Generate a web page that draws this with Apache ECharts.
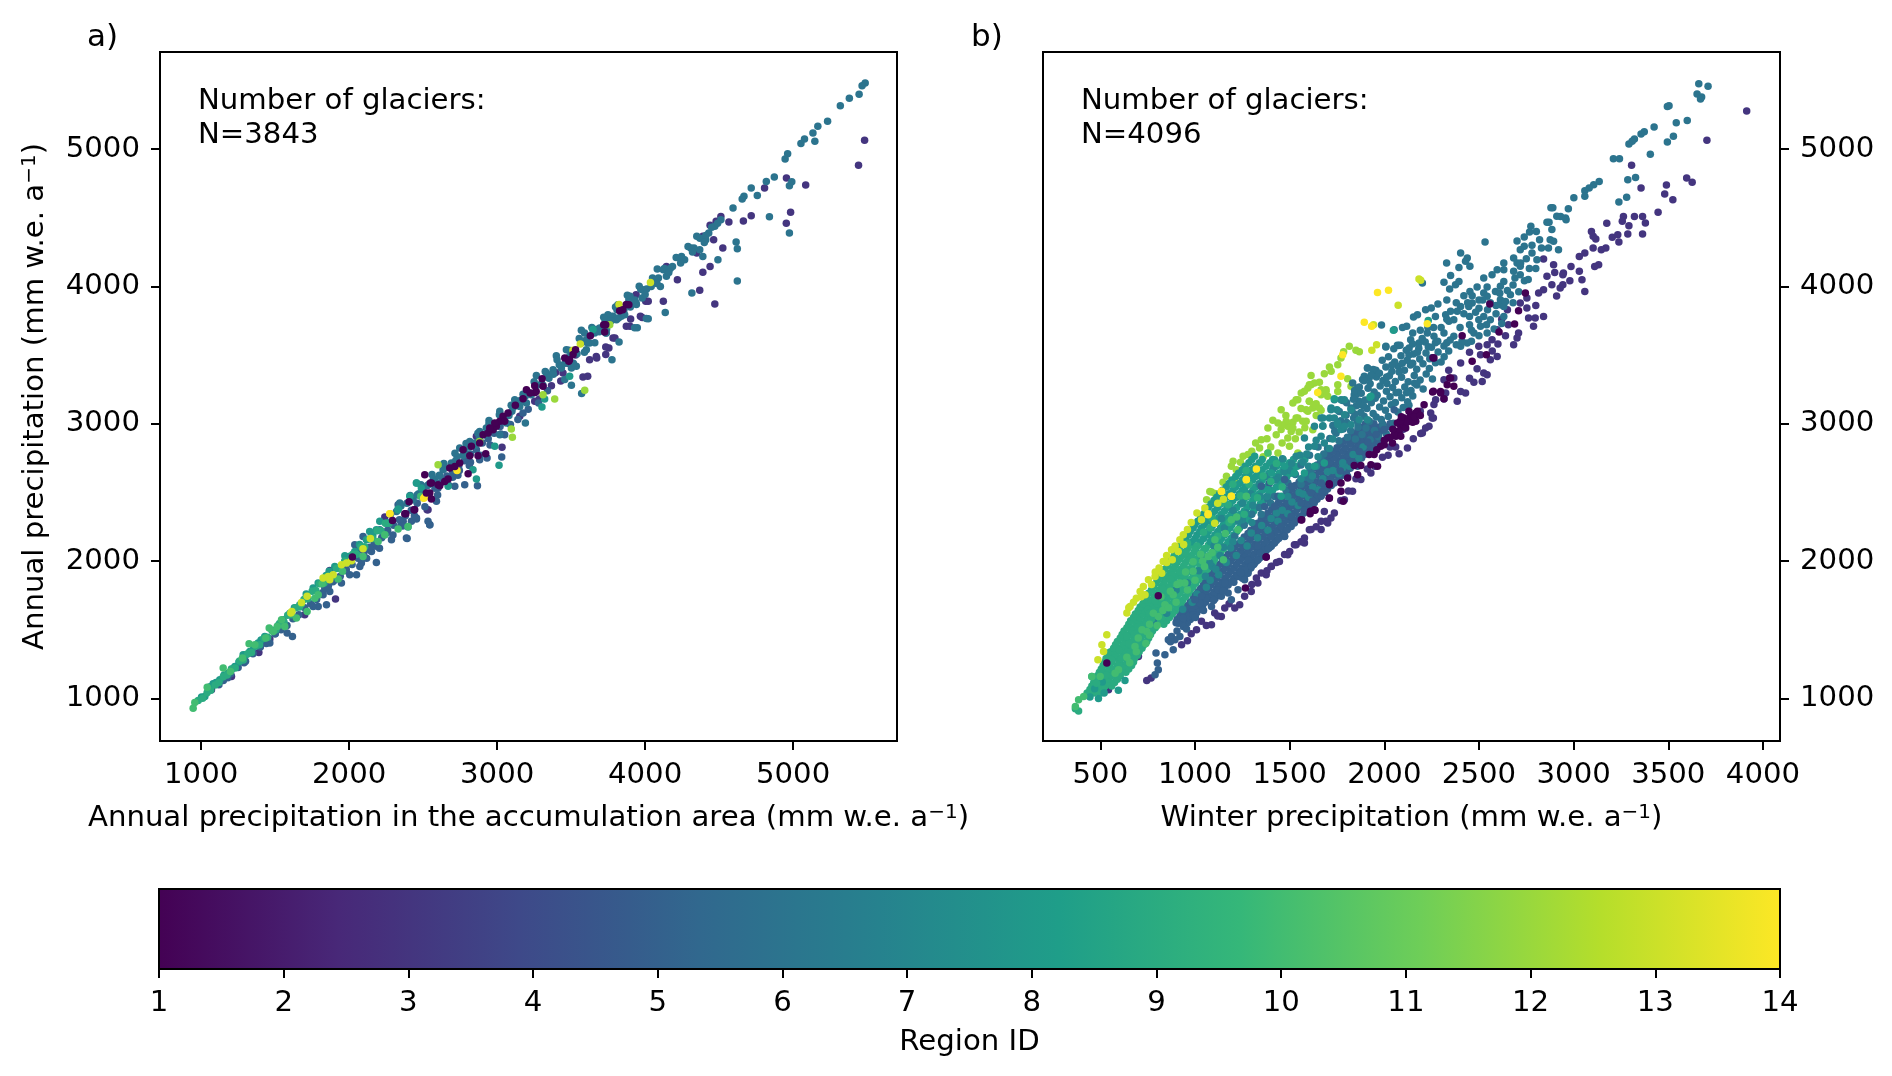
<!DOCTYPE html>
<html><head><meta charset="utf-8">
<style>html,body{margin:0;padding:0;background:#fff}#c{width:1892px;height:1076px}</style>
<script src="https://cdn.jsdelivr.net/npm/echarts@6/dist/echarts.min.js"></script>
</head><body><div id="c"></div>
<script>
const viridis=['#440154','#482878','#3e4989','#31688e','#26828e','#1f9e89','#35b779','#6ece58','#b5de2b','#fde725'];
const tickA=[1000,2000,3000,4000,5000];
const tickBx=[500,1000,1500,2000,2500,3000,3500,4000];
const tickY=[1000,2000,3000,4000,5000];
const tickRegion=[1,2,3,4,5,6,7,8,9,10,11,12,13,14];

/* Panel a: [accumulation-area precipitation, annual precipitation] */
const aR3=[[1908,1723],[1700,1609],[1390,1335],[1205,1160],[1070,1063],[1869,1932],[2241,2320],[2527,2374],[1464,1432],[3033,2828],[3580,3340],[3367,3277],[3734,3558],[3734,3503],[3670,3490],[3625,3466],[3783,3624],[3873,3709],[3902,3762],[3968,3782],[4004,3891],[3254,3163],[3445,3369],[3153,3054],[2533,2374],[2860,2908],[3939,3939],[4021,3891],[4123,3891],[4218,4048],[4144,4145],[4349,4242],[4463,4340],[4390,4364],[3796,3624],[3755,3551],[3673,3478],[3612,3345],[5483,5063],[5442,4881],[4955,4789],[5085,4738],[4983,4539],[4954,4459],[4717,4514],[4664,4475],[4566,4468],[4807,4716],[4512,4509],[4525,4279],[4439,4145],[4390,4102],[4369,3971],[4471,3871],[3980,3774],[3898,3709],[4480,4473],[4439,4444],[3395,3372],[3480,3440],[3530,3500],[3430,3310],[3285,3180]];
const aR5=[[1617,1451],[1581,1476],[1464,1403],[2184,1990],[2392,2165],[2545,2264],[2072,1961],[2050,1900],[2004,1900],[1948,1840],[1847,1682],[1791,1670],[1824,1755],[1835,1803],[2083,1985],[2151,2070],[2061,2082],[2038,2119],[2094,2179],[2286,2155],[2331,2410],[2455,2306],[2421,2289],[2533,2289],[2365,2289],[2275,2276],[2252,2204],[2184,2107],[2139,2082],[1914,1949],[1869,1779],[1757,1670],[2545,2265],[2781,2556],[2867,2549],[2932,2750],[3031,2757],[2387,2168],[2455,2313],[2590,2435],[2714,2544],[2882,2738],[3051,2920],[3175,3078],[2600,2530],[2650,2590],[2745,2660],[2820,2720],[2700,2610],[1500,1470],[1440,1400],[1350,1330],[1290,1260],[1180,1150],[1120,1100],[2350,2260],[2170,2130],[2230,2190],[1980,1940],[1890,1850],[1780,1720],[1150,1130],[1200,1180],[1250,1225],[1300,1270],[1350,1325],[1400,1375],[1450,1420],[1500,1470],[1540,1500],[1580,1530],[1620,1580],[1660,1610],[1700,1660],[1740,1690],[1780,1730],[1820,1770],[1860,1820],[1900,1860],[1940,1890],[1980,1930],[2020,1975],[2060,2020],[2100,2060],[2140,2100],[2180,2130],[2220,2170],[2260,2225],[2300,2260],[2340,2300],[2380,2330],[2420,2370],[2460,2420],[2500,2460],[2540,2490],[2580,2530],[2620,2570],[2660,2620],[2700,2650],[2740,2690],[2780,2730],[2820,2780],[2860,2810],[2900,2860],[2940,2890],[2980,2930],[3020,2980],[2118,2020],[2205,2094],[2296,2190],[2362,2255],[2441,2330],[2512,2395],[2598,2480],[2672,2552],[2735,2625],[2812,2695],[2885,2770],[2952,2845],[3025,2925],[3090,2995],[3140,3030],[3210,3105],[3280,3150],[3340,3240]];
const aR6=[[5487,5480],[5466,5461],[5446,5398],[5380,5369],[5319,5315],[5233,5201],[5167,5165],[5134,5116],[5147,5056],[5077,5073],[5053,5039],[4963,4966],[4946,4927],[4873,4796],[4819,4764],[4975,4733],[4991,4762],[4975,4388],[4840,4507],[4758,4662],[4717,4716],[4668,4655],[4656,4636],[4594,4570],[4615,4323],[4623,4274],[4492,4194],[4623,4039],[4316,3951],[4136,3810],[4021,3764],[3947,3699],[3775,3781],[3857,3830],[3816,3866],[3898,3927],[3980,3975],[4082,4126],[4041,3999],[4144,4073],[4185,4145],[4246,4218],[4308,4279],[4349,4364],[4410,4340],[4430,4388],[4471,4437],[4512,4485],[4123,4121],[4267,4194],[4369,4267],[4390,4218],[3980,3915],[4103,3999],[3939,3878],[3734,3757],[3673,3684],[3591,3660],[3734,3660],[3569,3680],[3776,3466],[3824,3595],[3571,3219],[3502,3279],[3929,3699],[4008,3765],[2945,3024],[3018,3090],[3191,3005],[3265,3350],[3400,3495],[3502,3405],[3378,3393],[3333,3369],[3434,3405],[3457,3321],[3603,3539],[3625,3587],[3659,3660],[3693,3697],[3749,3794],[3783,3782],[3806,3757],[3862,3794],[3941,3867],[3198,3151],[3153,3126],[3119,3175],[3063,3005],[3018,2920],[2927,2969],[2882,2944],[2815,2871],[2747,2823],[2691,2714],[2635,2665],[2578,2592],[2500,2507],[2432,2447],[2342,2423],[2263,2277],[2207,2228],[3220,3223],[3468,3539],[3535,3418],[3603,3612],[3670,3685],[3738,3660],[3839,3782],[3918,3879],[3300,3290],[3350,3330],[3480,3480],[3100,3090],[3160,3170],[2990,2990],[2850,2860],[2780,2790],[2720,2730],[2610,2625],[2540,2560],[2470,2490],[2280,2340],[2320,2360],[2350,2400],[2390,2420],[2420,2460],[2460,2480],[2500,2540],[2530,2550],[2570,2600],[2610,2620],[2650,2680],[2690,2700],[2730,2760],[2770,2770],[2810,2830],[2850,2840],[2880,2900],[2920,2920],[2960,2980],[3000,2990],[3040,3050],[3080,3060],[3110,3120],[3150,3140],[3190,3200],[3230,3210],[3270,3280],[3310,3280],[3340,3350],[3380,3360],[3420,3430],[3460,3440],[3500,3510],[3540,3510],[3570,3590],[3610,3590],[3650,3670],[3690,3670],[3730,3750],[3770,3750],[3810,3830],[3850,3830],[3890,3900],[3930,3900],[3970,3980],[4010,3980],[4050,4060],[4090,4060],[4130,4130],[4170,4130],[4210,4210],[4250,4200],[4290,4290],[4330,4280],[4370,4350],[4410,4370],[4450,4430],[4490,4460],[2412,2478],[2485,2555],[2560,2630],[2640,2710],[2715,2785],[2790,2855],[2870,2930],[2945,3000],[3015,3065],[3095,3135],[3175,3215],[3250,3305],[3325,3380],[3405,3465],[3485,3535],[3555,3620],[3640,3700],[3720,3775],[3800,3850],[3880,3935],[3960,4000],[3515,3440],[3590,3520],[3660,3590],[3740,3690],[3820,3770],[3900,3850],[4000,3940],[4080,4020],[4160,4100],[4240,4170],[4320,4250],[4400,4320]];
const aR8=[[1003,1010],[1025,1014],[1081,1107],[1126,1136],[1183,1184],[1228,1233],[1284,1318],[1329,1342],[1385,1403],[1430,1451],[1554,1573],[1667,1682],[1757,1803],[1791,1840],[1903,1961],[1971,2039],[2038,2070],[2117,2155],[2184,2228],[2252,2276],[2331,2374],[2410,2471],[2455,2568],[2207,2289],[2139,2216],[3013,2697],[2860,2597],[2837,2665],[2398,2248],[2669,2544],[2984,2835],[3303,3121],[3321,3180],[3490,3345],[3648,3685],[2455,2568],[2331,2379],[2488,2532],[2241,2192],[1060,1085],[1100,1115],[1155,1170],[1205,1215],[1255,1265],[1305,1320],[1355,1375],[1405,1425],[1480,1495],[1520,1530],[1600,1620],[1630,1660],[1710,1760],[1845,1895],[1865,1925],[2005,2035],[2070,2120],[2160,2190]];
const aR9=[[980,985],[1010,1002],[1040,1042],[1065,1060],[1095,1098],[1120,1115],[1150,1158],[1175,1170],[1205,1212],[1230,1222],[1260,1272],[1285,1280],[1315,1325],[1340,1335],[1370,1382],[1395,1390],[1425,1438],[1450,1446],[1480,1495],[1505,1500],[1530,1545],[1560,1555],[1585,1605],[1610,1610],[1640,1660],[1665,1665],[1695,1720],[1720,1725],[1750,1780],[1775,1785],[1800,1835],[1830,1840],[1855,1890],[1885,1890],[1915,1945],[1940,1945],[1970,2000],[1995,2000],[2025,2050],[2050,2050],[2080,2105],[2105,2105],[2135,2160],[2160,2165],[2190,2220],[2215,2220],[2245,2275],[2270,2275]];
const aR10=[[946,929],[957,971],[1041,1082],[1149,1221],[1198,1196],[1279,1294],[1324,1398],[1363,1391],[1437,1439],[1460,1512],[1487,1488],[1514,1524],[1565,1524],[1543,1573],[1644,1585],[1678,1689],[1716,1633],[1768,1730],[1818,1835],[1791,1755],[1926,1869],[1955,1925],[2094,2034],[2196,2143],[2398,2252],[2331,2233],[2484,2471],[2241,2191]];
const aR12=[[2601,2702],[2882,2871],[3103,2901],[3096,2961],[3310,3211],[3389,3180],[3592,3243],[3761,3721]];
const aR13=[[1606,1621],[1613,1633],[1716,1743],[1824,1876],[1869,1864],[1858,1888],[1892,1900],[1948,1973],[1982,1985],[2016,2002],[2094,2090],[2144,2165],[1678,1699],[3513,3534],[3562,3580],[3824,3867],[4036,4028]];
const aR14=[[2275,2344],[2504,2458],[2275,2345],[2511,2466],[2729,2660]];
const aR1=[[2293,2296],[2376,2344],[2405,2432],[2443,2374],[2522,2495],[2556,2451],[2601,2556],[2646,2580],[2549,2568],[2022,2029],[2383,2345],[2439,2374],[2545,2495],[2556,2568],[2612,2549],[2511,2629],[2680,2677],[2747,2714],[2714,2689],[2669,2597],[2804,2636],[2815,2767],[2871,2767],[2923,2782],[2770,2811],[2826,2835],[2882,2859],[2905,2920],[2939,2932],[2972,2956],[2995,2981],[3018,3017],[3040,3054],[3074,3078],[2984,3005],[2950,2969],[3051,3017],[3123,3134],[3175,3182],[3198,3248],[3254,3277],[3304,3328],[3310,3272],[3256,3228],[3457,3478],[3513,3503],[3484,3454],[3630,3641],[3720,3721],[3727,3668],[3828,3823],[3873,3867],[3849,3830],[3890,3866],[3734,3721],[3530,3539],[3489,3466],[3264,3235],[3223,3223]];

/* Panel b: [winter precipitation, annual precipitation] */
const bR3=[[745,1131],[768,1148],[543,1063],[526,1257],[578,1330],[701,1306],[929,1391],[1034,1561],[1008,1500],[1087,1536],[1139,1597],[1104,1621],[1157,1658],[1210,1658],[1236,1682],[1262,1743],[1297,1779],[1332,1840],[1324,1876],[1376,1900],[1403,1961],[1446,1997],[1490,2046],[1534,2119],[1578,2131],[1604,2228],[1666,2289],[1718,2313],[1683,2361],[2262,3139],[2315,3180],[2259,3042],[2218,2969],[2192,2928],[2153,2891],[2122,2823],[2078,2782],[1929,2641],[1876,2593],[1832,2508],[1701,2277],[1666,2229],[1613,2229],[1578,2168],[1525,2119],[1473,2047],[1403,1962],[1350,1913],[1789,2447],[1736,2350],[1692,2289],[1950,2690],[1990,2755],[2030,2830],[2841,4199],[2894,4158],[2946,4097],[2859,4073],[2885,4012],[2929,3988],[2841,3976],[2815,3951],[2753,3915],[2718,3879],[2753,3842],[2841,3781],[2797,3769],[2762,3769],[2788,3709],[2709,3660],[2701,3624],[2683,3575],[2596,3684],[2569,3612],[2543,3575],[2499,3563],[2508,3502],[2596,3490],[2560,3466],[2525,3369],[2543,3357],[2517,3308],[2473,3301],[2403,3235],[2429,3223],[2385,3163],[2324,3223],[2271,3175],[2245,3078],[2253,3041],[2236,2981],[2201,2932],[2315,3320],[2367,3332],[2403,3442],[3914,5276],[3704,5063],[3306,4881],[3597,4789],[3626,4757],[3490,4738],[3356,4716],[3481,4672],[3524,4631],[3446,4539],[3263,4509],[3321,4509],[3364,4509],[3257,4473],[3379,4461],[3175,4459],[3292,4441],[3286,4381],[3364,4381],[3204,4357],[3233,4376],[3239,4323],[3170,4279],[3146,4267],[3103,4364],[3117,4344],[3094,4400],[3103,4279],[3059,4242],[3030,4218],[2986,4145],[3030,4109],[3132,4158],[3111,4145],[3044,4048],[3059,3963],[2943,4085],[2943,4012],[2650,3830],[2620,3760],[2655,3720],[2900,4100],[2800,3860],[2980,4040],[2910,3930],[2450,3520],[2340,3390],[2150,3040],[2190,3090],[2100,2960],[1810,2510],[1770,2440],[1850,2600],[1910,2670],[1640,2250],[1560,2140],[1500,2070],[1430,1990],[1380,1930],[1300,1830],[1180,1690],[1120,1600],[1060,1530],[980,1470],[960,1420],[2020,2770],[2060,2830],[2600,3580],[2450,3330],[2490,3400],[2640,3640],[2570,3530]];
/* rows: first number is annual precipitation, the rest winter precipitation */
const bRows5=[[1550,900,925,960],[1575,905,940,975],[1600,920,955,990],[1625,930,970,1010],[1650,945,985,1025],[1675,960,1000,1040],[1700,975,1015,1055],[1725,990,1030,1070,1105],[1750,1000,1040,1085,1125],[1775,1015,1055,1100,1140],[1800,1030,1070,1115,1155],[1825,1045,1085,1130,1175],[1850,1055,1100,1145,1190],[1875,1070,1115,1160,1205,1250],[1900,1085,1130,1175,1220,1265],[1925,1100,1145,1190,1235,1280],[1950,1115,1160,1205,1250,1295],[1975,1130,1175,1220,1265,1310],[2000,1145,1190,1235,1280,1325],[2025,1160,1205,1250,1295,1345],[2050,1175,1220,1265,1310,1360],[2075,1195,1240,1280,1330,1375],[2100,1210,1255,1300,1345,1395],[2125,1225,1270,1320,1365,1410],[2150,1245,1290,1335,1380,1430],[2175,1260,1305,1355,1400,1445],[2200,1280,1325,1370,1415,1465],[2225,1295,1340,1385,1435,1480],[2250,1315,1360,1405,1450,1500],[2275,1330,1375,1425,1470,1515],[2300,1350,1395,1440,1490,1535],[2325,1365,1415,1460,1505,1555],[2350,1385,1430,1480,1525,1575],[2375,1405,1450,1495,1540,1590],[2400,1420,1470,1515,1560,1610],[2425,1440,1485,1530,1580,1630],[2450,1455,1505,1550,1600,1645],[2475,1475,1520,1570,1615,1665],[2500,1495,1540,1590,1635,1685],[2525,1510,1560,1605,1650,1700],[2550,1530,1580,1625,1670,1720],[2575,1550,1595,1645,1690,1740],[2600,1570,1615,1665,1710,1760],[2625,1590,1635,1680,1730,1780],[2650,1605,1655,1700,1750,1800],[2675,1625,1675,1720,1770,1820],[2700,1645,1695,1740,1790,1840],[2725,1665,1715,1760,1810,1860],[2750,1690,1735,1785,1830,1880],[2775,1710,1755,1805,1850,1895],[2800,1730,1780,1825,1870,1915],[2825,1750,1795,1845,1890,1935],[2850,1770,1820,1865,1915,1950],[2875,1790,1840,1885,1930,1970],[2900,1815,1860,1910,1950],[2925,1835,1885,1930,1970],[2950,1860,1905,1950,1990],[2975,1880,1925,1970,2010],[3000,1900,1945,1990,2030]];
const bR5=[[789,1172],[806,1209],[801,1257],[794,1330],[841,1318],[885,1354],[859,1427],[894,1427],[920,1451],[876,1451],[938,1524],[964,1597],[911,1548],[938,1585],[990,1609],[1025,1694],[1060,1730],[1034,1743],[999,1718],[1087,1670],[1139,1743],[1192,1718],[1175,1767],[1227,1791],[1262,1864],[1315,1985],[1332,2010],[1280,1912],[1367,2082],[1420,2131],[1473,2179],[1508,2252],[1560,2325],[1613,2410],[1648,2470],[1683,2519],[1718,2568],[1227,1888],[1157,1840],[1122,1791],[1280,2009],[1332,2107],[1403,2179],[1455,2252],[1508,2325],[1560,2422],[1613,2495],[1666,2568],[1262,1937],[1333,2010],[1403,2107],[1473,2180],[1525,2277],[1596,2398],[1666,2471],[1736,2568],[1806,2617],[1859,2690],[1929,2835],[1999,2957],[2052,3102],[1350,2544],[1394,2568],[1473,2593],[1508,2544],[1420,2398],[1438,2471],[1368,2398],[870,1412],[905,1490],[955,1505],[1002,1590],[1045,1640],[1098,1712],[1146,1782],[1205,1845],[1242,1915],[1298,1962],[1345,2058],[1388,2092],[1442,2165],[1487,2228],[1532,2296],[1578,2372],[1622,2438],[1671,2505],[1715,2592],[1768,2655],[1823,2722],[1868,2798],[1912,2866],[1957,2921]];
const bR6=[[3661,5475],[3710,5456],[3652,5400],[3676,5378],[3670,5364],[3504,5315],[3495,5310],[3600,5208],[3542,5191],[3425,5160],[3373,5126],[3356,5109],[3321,5073],[3309,5056],[3292,5036],[3527,5092],[3495,5051],[3405,4961],[3210,4929],[3242,4929],[3327,4793],[3286,4776],[3135,4764],[3106,4740],[3082,4716],[3059,4696],[3059,4655],[3001,4645],[3280,4648],[3239,4614],[2890,4573],[2972,4565],[2931,4509],[2957,4497],[2870,4466],[2880,4573],[2911,4510],[2960,4485],[2859,4466],[2774,4437],[2885,4413],[2803,4400],[2767,4396],[2739,4359],[2701,4330],[2532,4323],[2739,4291],[2876,4340],[2894,4328],[2867,4279],[2920,4267],[2718,4267],[2780,4243],[2403,4243],[2438,4206],[2429,4182],[2329,4170],[2452,4146],[2394,4138],[2683,4206],[2701,4170],[2631,4170],[2596,4121],[2631,4121],[2718,4146],[2683,4109],[2806,4194],[2766,4129],[2718,4085],[2569,4085],[2525,4061],[2350,4078],[2315,4029],[2201,4024],[2394,4036],[2376,4012],[2345,3981],[2631,4036],[2613,4000],[2543,3995],[2490,3995],[2452,3963],[2420,3932],[2464,3932],[2525,3951],[2587,3963],[2666,3939],[2613,3903],[2543,3927],[2283,3871],[2248,3842],[2218,3830],[2175,3794],[2154,3777],[2052,3684],[2096,3701],[2118,3709],[1985,3718],[2403,3854],[2464,3879],[2446,3854],[2385,3818],[2350,3818],[2324,3794],[2367,3757],[2341,3745],[2482,3811],[2525,3781],[2499,3757],[2560,3757],[2631,3781],[2613,3866],[2631,3854],[2139,3612],[2183,3587],[2227,3660],[2262,3636],[2315,3660],[2367,3636],[2403,3563],[2438,3587],[2473,3660],[2508,3709],[2543,3660],[2008,3563],[2075,3570],[2131,3551],[2008,3559],[2069,3571],[1911,3405],[1894,3345],[1955,3386],[1885,3321],[1920,3333],[1859,3260],[1841,3211],[1867,3163],[1780,3168],[1824,3114],[1850,3211],[1833,3296],[1911,3406],[1955,3389],[2460,3600],[2410,3600],[2330,3590],[2270,3590],[2200,3620],[2300,3700],[2400,3700],[2450,3720],[2260,3700],[2330,3760],[2450,3780],[2420,3800],[2560,3880],[2500,3840],[2520,3900],[2610,3950],[2460,3680],[2500,3640],[2540,3720],[2580,3690],[2620,3730],[2590,3800],[2545,3830],[2590,3860],[2640,3890],[2680,3880],[2710,3960],[2680,4010],[2650,3970],[2740,4040],[2690,4060],[2760,4050],[2720,4170],[2750,4200],[2780,4300],[2820,4340],[2830,4280],[2800,4130],[2500,3900],[2440,3880],[2380,3880],[2330,3900],[2270,3780],[2230,3700],[2190,3680],[2150,3660],
[1712,2893],[1745,2931],[1760,2875],[1783,2962],[1805,2902],[1822,2948],[1847,2889],[1861,2975],[1882,2921],[1903,2968],[1925,2883],[1948,2950],[1969,2905],[1992,2988],[2010,2926],[1728,2987],[1770,3022],[1801,3008],[1838,3041],[1859,3012],[1893,3055],[1921,3018],[1957,3049],[1984,3031],[2021,3052],[2048,3003],[1762,3088],[1798,3062],[1829,3095],[1852,3130],[1876,3082],[1908,3111],[1941,3074],[1975,3122],[2006,3098],[2037,3138],[2072,3085],[2100,3118],[1801,3152],[1837,3178],[1868,3140],[1899,3172],[1931,3153],[1962,3208],[1996,3166],[2030,3197],[2058,3155],[2092,3188],[2123,3160],[2150,3202],[1843,3241],[1878,3222],[1914,3258],[1946,3231],[1978,3275],[2011,3236],[2044,3263],[2076,3229],[2108,3268],[2141,3242],[2172,3281],[2205,3252],[1892,3312],[1925,3291],[1958,3340],[1993,3315],[2027,3349],[2058,3308],[2091,3338],[2126,3306],[2158,3351],[2189,3319],[2221,3362],[2254,3325],[1941,3395],[1974,3368],[2008,3412],[2040,3382],[2073,3419],[2106,3389],[2138,3428],[2171,3397],[2204,3436],[2238,3402],[2270,3444],[1989,3461],[2022,3487],[2055,3450],[2088,3494],[2121,3462],[2154,3507],[2187,3471],[2220,3515],[2252,3481],[2284,3522],[2316,3488],[2050,3546],[2083,3572],[2116,3534],[2149,3581],[2182,3549],[2216,3594],[2249,3556],[2282,3601],[2315,3565],[2348,3610],[2380,3574],
[1738,2945],[1790,2996],[1846,3068],[1890,3128],[1952,3186],[2014,3292],[1868,3268],[1930,3354],[2062,3225],[2130,3135],[2118,3225],[2160,3295],[2012,3340],[2078,3376],[2150,3440],[2095,3440],[2040,3428],[2240,3472],[2300,3450],[2340,3530],[2232,3560],[2130,3500],[2175,3520],[1700,2820],[1650,2830],[1680,2780],[1605,2770],[1560,2700],[1612,2660],[1665,2735],[1590,2610],[1530,2630],[1480,2520],[1420,2470],[1385,2450],[1340,2390],[1300,2340],[1260,2260],[1210,2180],[1350,2340],[1400,2420],[1490,2570],[1560,2560],[1610,2595]];
const bR7=[[1719,3114],[1750,3102],[1666,3041],[1710,3041],[1754,2995],[1789,3066],[1675,2985],[1736,3175],[1718,3102],[1771,3175],[1824,3102],[1789,3175],[1736,3042],[1675,3042],[1753,3005],[1771,2957],[1631,2981],[1675,2981],[1666,2908],[1683,2860],[1578,2896],[1631,2835],[1534,2763],[1867,3029],[1911,3029],[1789,2981],[1824,2993],[1727,2889],[1590,2780],[1650,2760],[1710,2820],[1600,2690],[1560,2600],[1500,2660],[1440,2610],[1380,2470],[1300,2280],[1250,2300],[1200,2140],[1150,2100],[1090,1960],[1040,2020],[960,1840],[900,1790],[850,1620],[780,1560],[1640,2690],[1700,2650],[1780,2680],[1620,2620],[1550,2500],[1490,2470],[1430,2350],[1570,2720]];
const bR7over=[[1020,1930],[1055,1890],[1078,1985],[1110,1940],[1132,2040],[1165,1990],[1188,2095],[1218,2040],[1243,2150],[1275,2110],[1297,2205],[1330,2170],[1352,2258],[1385,2225],[1402,2310],[1438,2290],[1461,2370],[1490,2345],[1512,2430],[1545,2405],[1570,2488],[1600,2465],[1622,2540],[1655,2520],[1675,2600],[1706,2575],[1728,2660],[1760,2635],[1780,2715],[1815,2690],[1835,2775],[1866,2750],[1888,2830],[1230,2290],[1270,2350],[1305,2405],[1345,2470],[1385,2540],[1425,2590],[1470,2650],[1510,2710],[1555,2770],[1600,2830],[1640,2880],[1100,2110],[1155,2240],[1200,2370],[1140,2310],[1250,2420],[1295,2490],[1340,2560],[1378,2615],[1415,2680],[1462,2745],[1010,1760],[1060,1810],[985,1700],[935,1650],[1080,1860],[1125,1900]];
const bRows9=[[1040,430,465,500],[1065,445,480,515],[1090,455,490,525,560],[1115,465,505,540,575],[1140,470,510,545,590],[1165,485,520,560,605],[1190,495,530,565,600,635],[1215,505,545,580,615,650],[1240,515,550,590,625,665],[1265,525,560,600,640,675],[1290,530,570,605,640,680],[1315,545,580,620,655,695],[1340,555,590,630,670,705],[1365,570,605,645,685,720],[1390,580,620,655,695,730],[1415,590,630,670,705,745],[1440,605,640,680,715,755],[1465,615,655,690,730,765],[1490,625,665,700,740,775],[1515,640,675,715,750,790],[1540,650,690,725,765,800,835],[1565,660,700,740,775,815,850],[1590,675,710,750,790,825,865],[1615,685,725,760,800,840,880],[1640,700,735,775,810,850,895],[1665,710,750,785,825,865,905],[1690,725,760,800,840,880,925],[1715,735,770,815,850,890,935],[1740,745,785,825,865,905,950],[1765,755,795,840,880,920,965],[1790,770,810,850,890,935,975],[1815,780,825,865,905,945,990],[1840,795,835,875,915,960,1005],[1865,805,845,885,930,975,1020],[1890,815,860,900,945,990,1035],[1915,830,870,915,955,1005,1050],[1940,840,885,925,970,1020,1065],[1965,855,895,940,985,1030,1075],[1990,865,905,950,1000,1045,1095],[2015,875,920,965,1010,1060,1105],[2040,890,935,980,1025,1075,1120],[2065,900,945,995,1040,1090,1135],[2090,915,960,1005,1055,1105,1150],[2115,925,975,1020,1070,1115,1165]];
const bRows8=[[2140,940,985,1030,1080,1130,1175],[2165,950,1000,1045,1090,1140,1190],[2190,965,1010,1060,1105,1155,1205],[2215,975,1025,1070,1120,1170,1220],[2240,990,1035,1085,1135,1185,1235],[2265,1000,1050,1095,1150,1195,1250],[2290,1015,1065,1110,1160,1210,1265],[2315,1030,1075,1125,1175,1225,1280],[2340,1045,1090,1140,1190,1240,1295],[2365,1055,1105,1155,1205,1260,1310],[2390,1070,1120,1170,1220,1275,1325],[2415,1085,1135,1185,1240,1290,1345],[2440,1100,1150,1200,1255,1305,1360],[2465,1115,1165,1220,1270,1325,1380],[2490,1130,1180,1235,1285,1340,1395],[2515,1145,1200,1250,1305,1355,1410],[2540,1165,1215,1265,1320,1375,1430],[2565,1180,1235,1285,1340,1390,1450],[2590,1195,1250,1305,1355,1410,1465],[2615,1215,1265,1320,1375,1430,1485],[2640,1230,1285,1335,1390,1445,1505],[2665,1250,1300,1355,1410,1465,1520],[2690,1265,1320,1375,1430,1485,1540],[2715,1285,1340,1395,1450,1500,1560],[2740,1300,1355,1410,1465,1520,1580]];
const bR8=[[2048,3680],[2232,3752],[1924,3192],[1736,3182],[1929,3199],[1315,2763],[1420,2738],[1473,2690],[1525,2641],[1578,2641],[1631,2690],[1683,2714],[1403,2641],[1350,2617],[1297,2593],[1262,2520],[1315,2471],[1385,2520],[1455,2471],[490,1000],[520,1040],[445,1010],[470,1070],[510,1120],[630,1130],[595,1060]];
const bR9=[[368,925],[385,908],[455,1160],[480,1110],[530,1170],[570,1210],[610,1290],[660,1340],[690,1410],[650,1400],[730,1480],[770,1580],[820,1700],[860,1800],[930,1900],[1000,2000],[1050,2090],[1120,2180],[1180,2280],[1260,2340],[1330,2460],[1400,2580],[1460,2540],[1270,2660],[1200,2560],[1140,2420],[1090,2310],[1010,2110],[950,2060],[880,1900],[830,1800],[750,1650],[700,1520],[600,1350],[560,1280],[640,1450],[520,1250],[540,1330],[905,2000],[960,2130],[1045,2210],[1100,2285],[1175,2410],[1240,2475],[1285,2560],[1360,2620],[1430,2710],[1080,2240],[1000,2080],[920,1920],[870,1870],[790,1710],[760,1620],[680,1470]];
const bR10=[[455,1160],[499,1160],[385,990],[412,1014],[368,942],[683,1378],[745,1488],[806,1597],[841,1682],[885,1755],[946,1840],[990,1925],[1069,2034],[1192,2301],[1227,2228],[596,1208],[578,1184],[1105,2156],[1271,2471],[1385,2787],[640,1300],[700,1440],[780,1620],[870,1780],[920,1840],[1040,2000],[720,1500],[760,1540],[830,1640],[760,1460],[800,1530],[900,1700],[960,1790],[1000,1860],[1120,2100],[1150,2010],[1050,1960],[1090,2060],[1160,2200],[1220,2320],[860,1660],[905,1830],[820,1740],[950,1920],[990,1995],[1030,2050],[740,1400],[690,1340],[655,1260]];
const bR12=[[1815,3563],[1785,3524],[1850,3534],[1868,3524],[1771,3478],[1754,3430],[1710,3413],[1719,3381],[1683,3364],[1613,3350],[1806,3328],[1657,3301],[1613,3284],[1596,3260],[1754,3284],[1754,3235],[1824,3272],[1692,3248],[1666,3211],[1701,3199],[1561,3223],[1534,3175],[1517,3150],[1604,3163],[1640,3146],[1622,3114],[1666,3097],[1596,3090],[1543,3041],[1517,3010],[1490,2981],[1622,2956],[1569,3017],[1508,2944],[1631,3296],[1604,3284],[1578,3236],[1543,3175],[1666,3248],[1692,3236],[1604,3163],[1631,3139],[1587,3102],[1657,3114],[1455,3102],[1411,3025],[1438,3005],[1482,3017],[1385,2969],[1455,2957],[1517,2969],[1534,3042],[1587,3017],[1350,2884],[1429,2920],[1490,2896],[1341,2823],[1385,2787],[1438,2787],[1499,2835],[1543,2787],[1254,2763],[1280,2775],[1201,2726],[1192,2690],[1218,2665],[1166,2617],[1210,2593],[1148,2573],[1087,2503],[1105,2491],[1061,2447],[1078,2507],[1460,2860],[1400,2830],[1530,2890],[1300,2800],[1360,2760],[1240,2720],[1320,2860],[1380,2890],[1460,2990],[1550,2940],[1580,2970],[1480,3060],[1560,3110],[1640,3060]];
const bR13=[[534,1463],[508,1391],[517,1342],[487,1281],[640,1621],[657,1670],[710,1779],[736,1755],[754,1864],[789,1888],[832,1997],[876,2082],[911,2070],[920,2155],[938,2192],[824,1912],[727,1815],[1052,2386],[1104,2276],[1034,2301],[2192,4044],[2183,4053],[2073,3862],[1943,3721],[1959,3575],[1934,3534],[650,1660],[690,1730],[770,1830],[810,1950],[850,2040],[895,2110],[960,2230],[980,2280],[1010,2350],[1120,2420],[1150,2450],[675,1700],[715,1740],[790,1920],[850,1990],[880,2010],[940,2120]];
const bR14=[[1964,3956],[2022,3971],[1894,3738],[1933,3709],[2227,3728],[1771,3345],[1648,3228],[1780,3502],[1069,2337],[1139,2507],[1192,2471],[1271,2592],[1324,2670],[1271,2593],[1140,2508],[1192,2471],[1069,2345]];
const bR1=[[2557,3871],[2745,3951],[2709,3823],[2688,3726],[2606,3667],[2411,3641],[2257,3481],[2539,3502],[2464,3454],[2345,3332],[2332,3284],[2297,3235],[2255,3231],[2315,3182],[2210,3138],[2166,3078],[2139,3041],[2087,2981],[2061,2944],[2104,2985],[2061,2908],[806,1747],[534,1257],[1376,2029],[1266,1803],[1564,2301],[1608,2344],[1634,2369],[1709,2458],[1709,2563],[1376,2030],[1561,2299],[1610,2362],[1631,2374],[1710,2556],[1771,2568],[1710,2459],[1771,2508],[1783,2435],[1806,2605],[1841,2695],[1876,2695],[1859,2629],[1920,2775],[1946,2775],[1929,2702],[1964,2690],[1981,2835],[2017,2896],[1999,2847],[2043,2860],[2069,3005],[2104,3042],[2139,3066],[2175,3090],[2166,3017],[2078,2945],[2113,2969],[2052,2920],[2087,2908],[2259,3236],[2297,3224],[2262,3478],[2350,3333],[2367,3272],[2120,3010],[2150,3010],[2085,3020],[2045,2960],[2030,2900],[2000,2880],[1960,2810],[2090,3050],[2130,3090],[2160,3050],[2190,3060]];

const grey='#000';
const font='"DejaVu Sans"';
const fs=29.2;
const rich={sup:{fontSize:20,fontFamily:font,verticalAlign:'top',padding:[0,0,10,0],color:'#000'}};
function withRegion(arr,r){return arr.map(p=>[p[0],p[1],r]);}
function fromRows(rows,r){const o=[];rows.forEach(row=>{for(let i=1;i<row.length;i++)o.push([row[i],row[0],r]);});return o;}
const aData=[].concat(withRegion(aR3,3),withRegion(aR5,5),withRegion(aR6,6),withRegion(aR8,8),withRegion(aR9,9),withRegion(aR10,10),withRegion(aR12,12),withRegion(aR13,13),withRegion(aR14,14),withRegion(aR1,1));
const bData=[].concat(withRegion(bR3,3),fromRows(bRows5,5),withRegion(bR12,12),fromRows(bRows9,9),fromRows(bRows8,8),withRegion(bR6,6),withRegion(bR7,7),withRegion(bR7over,7),withRegion(bR5,5),withRegion(bR8,8),withRegion(bR9,9),withRegion(bR10,10),withRegion(bR13,13),withRegion(bR14,14),withRegion(bR1,1));
function axis(o,ticks,pad){
  return Object.assign({type:'value',scale:true,splitLine:{show:false},
    axisLine:{show:true,onZero:false,lineStyle:{color:grey,width:2}},
    axisTick:{show:true,length:9,customValues:ticks,lineStyle:{color:grey,width:2}},
    axisLabel:{show:true,customValues:ticks,formatter:v=>String(v),color:'#000',fontSize:fs,fontFamily:font,margin:20,padding:pad||0},
    nameLocation:'middle',nameTextStyle:{color:'#000',fontSize:fs,fontFamily:font,rich:rich}},o);
}
const chart=echarts.init(document.getElementById('c'),null,{renderer:'canvas'});
chart.setOption({
  animation:false,backgroundColor:'#fff',
  title:[
    {text:'a)',left:82,top:17,textStyle:{fontSize:31,fontWeight:'normal',fontFamily:font,color:'#000'}},
    {text:'b)',left:966,top:17,textStyle:{fontSize:31,fontWeight:'normal',fontFamily:font,color:'#000'}},
    {text:'Number of glaciers:\nN=3843',left:193,top:79,textStyle:{fontSize:fs,fontWeight:'normal',fontFamily:font,color:'#000',lineHeight:34}},
    {text:'Number of glaciers:\nN=4096',left:1076,top:79,textStyle:{fontSize:fs,fontWeight:'normal',fontFamily:font,color:'#000',lineHeight:34}}
  ],
  grid:[
    {left:160,right:995,top:52,height:689,show:true,borderColor:'#000',borderWidth:2,backgroundColor:'transparent'},
    {left:1043,right:112,top:52,height:689,show:true,borderColor:'#000',borderWidth:2,backgroundColor:'transparent'},
    {left:159,right:112,top:889,height:80,show:true,borderColor:'#000',borderWidth:2,
     backgroundColor:new echarts.graphic.LinearGradient(0,0,1,0,viridis.map((c,i)=>({offset:i/(viridis.length-1),color:c})))}
  ],
  xAxis:[
    axis({gridIndex:0,min:722,max:5702,name:'Annual precipitation in the accumulation area (mm w.e. a{sup|−1})',nameGap:62},tickA),
    axis({gridIndex:1,min:197,max:4090,name:'Winter precipitation (mm w.e. a{sup|−1})',nameGap:62},tickBx),
    axis({gridIndex:2,min:1,max:14,name:'Region ID',nameGap:59},tickRegion)
  ],
  yAxis:[
    axis({gridIndex:0,min:690,max:5706,name:'Annual precipitation (mm w.e. a{sup|−1})',nameGap:110,nameRotate:90},tickY,[4,0,0,0]),
    axis({gridIndex:1,position:'right',min:690,max:5706},tickY,[4,0,0,0]),
    {gridIndex:2,type:'value',min:0,max:1,show:false}
  ],
  visualMap:{show:false,type:'continuous',min:1,max:14,dimension:2,seriesIndex:[0,1],inRange:{color:viridis}},
  series:[
    {type:'scatter',xAxisIndex:0,yAxisIndex:0,data:aData,symbolSize:7.5,symbol:'circle',itemStyle:{opacity:1},large:false,progressive:0},
    {type:'scatter',xAxisIndex:1,yAxisIndex:1,data:bData,symbolSize:7.5,symbol:'circle',itemStyle:{opacity:1},large:false,progressive:0}
  ]
});
</script></body></html>
